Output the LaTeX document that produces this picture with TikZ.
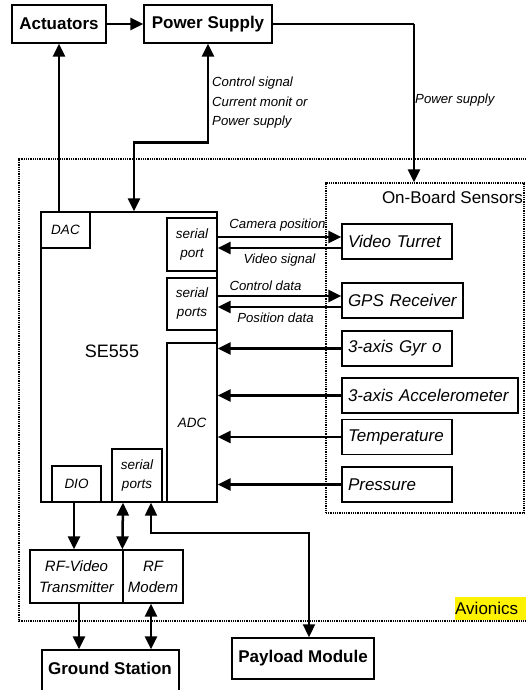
\documentclass[tikz,border=0pt]{standalone}
\usepackage{fontspec}
\setmainfont{Liberation Sans}
\usetikzlibrary{arrows.meta}
\tikzset{
  box/.style={draw, line width=1.4pt, inner sep=0pt},
  bigbold/.style={font=\fontsize{17}{20}\selectfont\bfseries},
  sensor/.style={draw, line width=1.4pt, minimum height=35pt, inner xsep=6pt, inner ysep=0pt, align=left, font=\fontsize{17}{20}\selectfont\itshape},
  small/.style={font=\fontsize{13.2}{19.5}\selectfont\itshape},
  sub/.style={draw, line width=1.3pt, inner sep=0pt, align=center, font=\fontsize{13.5}{19}\selectfont\itshape},
  arr/.style={line width=2.5pt, -{Triangle[length=13pt,width=12pt]}},
  darr/.style={line width=2.5pt, {Triangle[length=13pt,width=12pt]}-{Triangle[length=13pt,width=12pt]}},
  parr/.style={line width=2pt, {Triangle[length=13pt,width=12pt]}-{Triangle[length=13pt,width=12pt]}},
  thinline/.style={line width=1.1pt},
  dots/.style={line width=1.5pt, dash pattern=on 1pt off 0.8pt},
}
\begin{document}
\begin{tikzpicture}[x=1pt,y=-1pt]
\clip (0,0) rectangle (526,690);
\fill[white] (0,0) rectangle (526,690);

% top boxes
\node[box, bigbold, minimum width=94pt, minimum height=38pt] (act) at (59,24) {Actuators};
\node[box, bigbold, minimum width=128pt, minimum height=38pt] (ps) at (208,24) {Power Supply};

% avionics frame
\draw[dots] (540,159) -- (19,159) -- (19,621) -- (540,621);
\node[fill=yellow, anchor=north west, inner sep=0pt, minimum height=23pt, text width=72pt, align=left, font=\fontsize{17}{20}\selectfont] (avl) at (455,597) {Avionics};

% on-board sensors frame
\node[draw, line width=1.2pt, dash pattern=on 1pt off 0.8pt, minimum width=198pt, minimum height=330pt, inner sep=0pt] (ob) at (425,348) {};
\node[anchor=east, inner sep=0pt, font=\fontsize{17}{20}\selectfont] (obl) at (523,197) {On-Board Sensors};

% SE555
\node[box, minimum width=176pt, minimum height=290pt] (se) at (129,357) {};
\node[inner sep=0pt, font=\fontsize{18}{20}\selectfont] (sel) at (112,351) {SE555};
\node[sub, minimum width=49pt, minimum height=36pt] (dac) at (65.5,230) {DAC};
\node[sub, minimum width=50pt, minimum height=53pt] (sp1) at (192,244.5) {serial\\port};
\node[sub, minimum width=50pt, minimum height=52pt] (sp2) at (192,304) {serial\\ports};
\node[sub, minimum width=50pt, minimum height=159pt] (adc) at (192,422.5) {ADC};
\node[sub, minimum width=49pt, minimum height=36pt] (dio) at (76.5,484) {DIO};
\node[sub, minimum width=50pt, minimum height=53pt] (sp3) at (137,475.5) {serial\\ports};

% sensors
\node[sensor, text width=98pt] (vt) at (397,241.5) {Video Turret};
\node[sensor, text width=109pt] (gps) at (402.5,300.5) {GPS Receiver};
\node[sensor, text width=98pt] (gyro) at (397,348.5) {3-axis Gyr o};
\node[sensor, text width=164pt] (acc) at (430,395.5) {3-axis Accelerometer};
\node[sensor, text width=98pt] (temp) at (397,437) {Temperature};
\node[sensor, text width=98pt] (pres) at (397,484.5) {Pressure};

% RF boxes
\node[sub, minimum width=93pt, minimum height=53pt, font=\fontsize{15}{21}\selectfont\itshape] (rfv) at (76.5,576.5) {RF-Video\\Transmitter};
\node[sub, minimum width=60pt, minimum height=53pt, font=\fontsize{15}{21}\selectfont\itshape] (rfm) at (153,576.5) {RF\\Modem};

% ground and payload
\node[box, minimum width=137pt, minimum height=60pt] (gs) at (110.5,680) {};
\node[bigbold, inner sep=0pt] (gsl) at (110,668) {Ground Station};
\node[box, bigbold, minimum width=142pt, minimum height=41pt] (pm) at (303,658.5) {Payload Module};

% top connectors
\draw[arr] (act.east) -- (ps.west);
\draw[arr] (act.south |- dac.north) -- (act.south);
\draw[darr] (ps.south) -- ++(0,99) -| ([xshift=5pt]se.north);
\node[small, anchor=north west, align=left, inner sep=0pt] (csl) at (212,77) {Control signal\\Current monit or\\Power supply};
\coordinate (pc) at (414,24);
\draw[thinline] (ps.east) -- (pc);
\draw[arr] (pc) -- (pc |- ob.north);
\node[small, anchor=west, inner sep=0pt] (psl) at (415,100) {Power supply};

% sensor connectors
\draw[arr] ([yshift=7.5pt]sp1.east) -- node[small, above=1pt, xshift=-2pt] {Camera position} ([yshift=4.5pt]vt.west);
\draw[arr] ([yshift=-6.5pt]vt.west) -- node[small, below=1pt] {Video signal} ([yshift=-3.5pt]sp1.east);
\draw[arr] ([yshift=8pt]sp2.east) -- node[small, above=1pt, xshift=-14pt] {Control data} ([yshift=4.5pt]gps.west);
\draw[arr] ([yshift=-6.5pt]gps.west) -- node[small, below=1pt, xshift=-4pt] {Position data} ([yshift=-3pt]sp2.east);
\draw[arr] (gyro.west) -- (gyro.west -| adc.east);
\draw[arr] (acc.west) -- (acc.west -| adc.east);
\draw[arr] (temp.west) -- (temp.west -| adc.east);
\draw[arr] (pres.west) -- (pres.west -| adc.east);

% bottom connectors
\draw[arr] ([xshift=-2.5pt]dio.south) -- ([xshift=-2.5pt]rfv.north);
\draw[darr] ([xshift=-14pt]sp3.south) -- (rfm.north west);
\draw[parr] ([xshift=14pt]sp3.south) -- ++(0,30) -| ([xshift=6pt]pm.north);
\draw[arr] ([xshift=2.5pt]rfv.south) -- ([xshift=2.5pt]rfv.south |- gs.north);
\draw[darr] ([xshift=-2pt]rfm.south) -- ([xshift=-2pt]rfm.south |- gs.north);
\end{tikzpicture}
\end{document}
